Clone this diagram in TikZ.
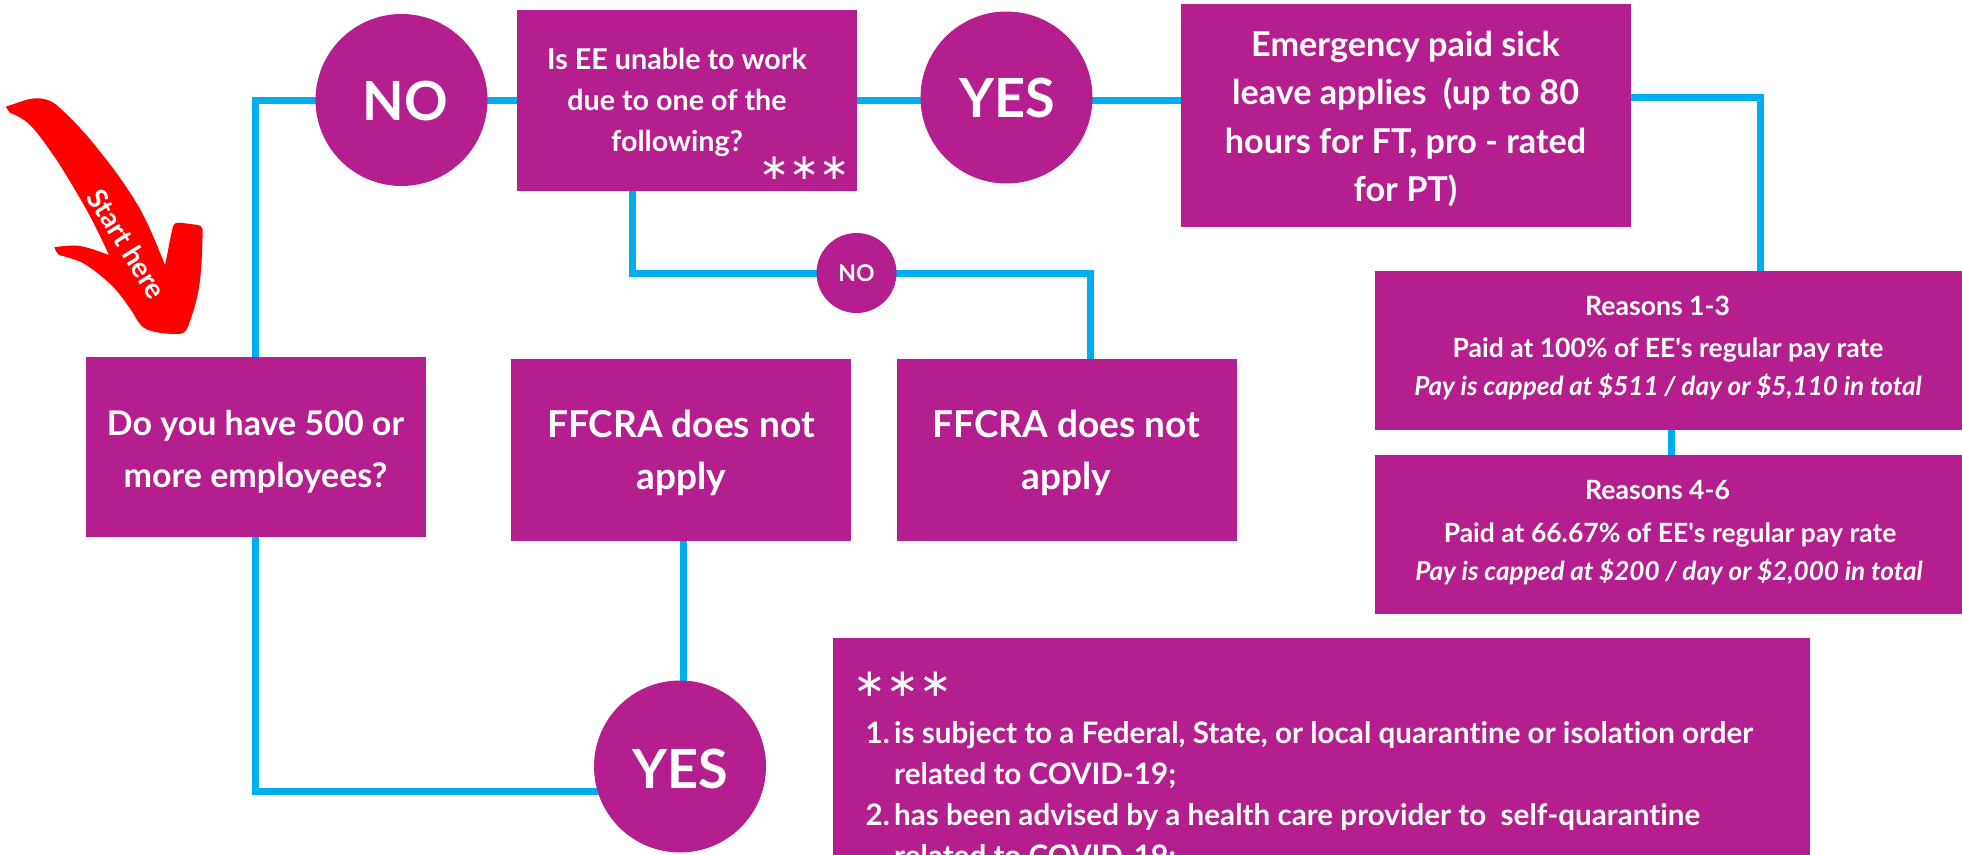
\documentclass[tikz,border=0pt]{standalone}
\usepackage{fontspec}
\usetikzlibrary{backgrounds}
\setmainfont{Lato}[Ligatures={NoCommon}]
\newfontfamily\astfont{DejaVu Sans}
\newfontfamily\aposfont{Lato}
\definecolor{boxpurple}{HTML}{B41E8E}
\definecolor{linkblue}{HTML}{00AEEF}
\newcommand{\fs}[2]{\fontsize{#1}{#2}\selectfont\bfseries}
\newcommand{\apos}{{\aposfont\bfseries'}}
\tikzset{
  box/.style={fill=boxpurple,inner sep=0pt,anchor=north west},
  disc/.style={circle,fill=boxpurple,inner sep=0pt,minimum size=#1},
  link/.style={draw=linkblue,line width=7pt,line join=miter},
  txt/.style={text=white,inner sep=0pt,align=center},
  stars/.style={text=white,inner sep=0pt,font=\astfont\fontsize{#1}{#1}\selectfont},
}
\begin{document}
\begin{tikzpicture}[x=1pt,y=-1pt]
\useasboundingbox (0,0) rectangle (1962,854);
\clip (0,0) rectangle (1962,854);
% boxes
\node[box,minimum width=340pt,minimum height=180pt] (q500) at (86,357) {};
\node[box,minimum width=340pt,minimum height=181pt] (unable) at (517,10) {};
\node[box,minimum width=450pt,minimum height=223pt] (epsl) at (1181,4) {};
\node[box,minimum width=340pt,minimum height=182pt] (ffa) at (511,359) {};
\node[box,minimum width=340pt,minimum height=182pt] (ffb) at (897,359) {};
\node[box,minimum width=587pt,minimum height=159pt] (r13) at (1375,271) {};
\node[box,minimum width=587pt,minimum height=159pt] (r46) at (1375,455) {};
\node[box,minimum width=977pt,minimum height=260pt] (list) at (833,638) {};
\node[disc=172pt] (no1) at (401.5,100) {};
\node[disc=172pt] (yes1) at (1006.5,97.5) {};
\node[disc=80pt] (no2) at (856.5,273) {};
\node[disc=172pt] (yes2) at (680,766.5) {};
\coordinate (c1) at (255.5,100);
\coordinate (c2) at (255.5,791);
\coordinate (c3) at (632.7,273);
\coordinate (c4) at (1090,273);
\coordinate (c5) at (1760.5,97.3);
\coordinate (c6) at (1671.5,440);
\coordinate (c7) at (683.3,600);
% connectors
\begin{scope}[on background layer]
\path[link] (q500.north -| c1) -- (c1) -- (no1.center);
\path[link] (no1.center) -- (unable.center |- c1);
\path[link] (unable.center |- c1) -- (yes1.center |- c1);
\path[link] (yes1.center |- c1) -- (epsl.center |- c1);
\path[link] (epsl.center |- c5) -- (c5) -- (r13.north -| c5);
\path[link] (r13.south -| c6) -- (r46.north -| c6);
\path[link] (unable.south -| c3) -- (c3) -- (no2.center) -- (c4) -- (ffb.north -| c4);
\path[link] (ffa.south -| c7) -- (yes2.center -| c7);
\path[link] (q500.south -| c2) -- (c2) -- (c2 -| yes2.center);
\end{scope}
% labels
\node[txt,font=\fs{54}{54}] (tno1) at (405,101) {NO};
\node[txt,font=\fs{54}{54}] (tyes1) at (1007,97.5) {YES};
\node[txt,font=\fs{23}{23}] (tno2) at (no2) {NO};
\node[txt,font=\fs{54}{54}] (tyes2) at (680,769) {YES};
\node[txt,font=\fs{34}{52.5}] (t500) at (255.5,451.5) {Do you have 500 or\\more employees?};
\node[txt,font=\fs{28.7}{41}] (tunable) at (677,102) {Is EE unable to work\\due to one of the\\following?};
\node[txt,font=\fs{34.2}{48.5}] (tepsl) at (1405.5,119) {Emergency paid sick\\leave applies\ \ (up to 80\\hours for FT, pro - rated\\for PT)};
\node[txt,font=\fs{37}{52}] (tffa) at (681,452.5) {FFCRA does not\\apply};
\node[txt,font=\fs{37}{52}] (tffb) at (1066.5,452.5) {FFCRA does not\\apply};
\node[stars=36] (s1) at (804.5,168.5) {∗∗∗};
\node[stars=39] (s2) at (902.7,684) {∗∗∗};
\node[txt,font=\fs{26.6}{26.6}] (r1a) at (1657.5,306) {Reasons 1-3};
\node[txt,font=\fs{26.5}{26.5}] (r1b) at (1668,350) {Paid at 100\% of EE\apos s regular pay rate};
\node[txt,font=\fs{26.1}{26.1}\itshape] (r1c) at (1668,387) {Pay is capped at \$511 / day or \$5,110 in total};
\node[txt,font=\fs{26.6}{26.6}] (r4a) at (1657.5,490) {Reasons 4-6};
\node[txt,font=\fs{26.5}{26.5}] (r4b) at (1670,535.5) {Paid at 66.67\% of EE\apos s regular pay rate};
\node[txt,font=\fs{26.1}{26.1}\itshape] (r4c) at (1669,572) {Pay is capped at \$200 / day or \$2,000 in total};
\node[txt,anchor=base east,font=\fs{29.6}{29.6}] (n1) at (890,743) {1.};
\node[txt,anchor=base west,font=\fs{29.6}{29.6}] (l1) at (894,743) {is subject to a Federal, State, or local quarantine or isolation order};
\node[txt,anchor=base west,font=\fs{29.6}{29.6}] (l1b) at (894,784) {related to COVID-19;};
\node[txt,anchor=base east,font=\fs{29.6}{29.6}] (n2) at (890,825) {2.};
\node[txt,anchor=base west,font=\fs{29.6}{29.6}] (l2) at (894,825) {has been advised by a health care provider to\ \ self-quarantine};
\node[txt,anchor=base west,font=\fs{29.6}{29.6}] (l2b) at (894,866) {related to COVID-19;};
% start arrow
\fill[red] (5.7,106.7) .. controls (15,104) and (28,98) .. (36.7,98.3)
  .. controls (46,98) and (54,102) .. (60,108)
  .. controls (75,122) and (88,136) .. (100,151.7)
  .. controls (115,170) and (126,186) .. (136.7,203.3)
  .. controls (148,222) and (156,243) .. (165,265)
  .. controls (168,252) and (170,238) .. (173,226.7)
  .. controls (174,223) and (177,222.5) .. (180,222.7)
  -- (198,225) .. controls (202,226) and (203,229) .. (202.7,233)
  .. controls (202,250) and (202,265) .. (200,280)
  .. controls (198,298) and (193,313) .. (188,326.7)
  .. controls (186,332) and (183,334) .. (178,334)
  .. controls (167,334) and (157,333) .. (148,330)
  .. controls (142,328) and (138,322) .. (133,313)
  .. controls (127,304) and (120,294) .. (113,286.7)
  .. controls (103,277) and (93,269) .. (83,263)
  .. controls (75,259) and (66,257) .. (59,255)
  .. controls (57,253) and (55,250) .. (54.3,247.3)
  .. controls (63,246) and (72,245) .. (80,246)
  .. controls (91,248) and (100,252) .. (109,255)
  .. controls (102,240) and (95,225) .. (86.7,210)
  .. controls (77,193) and (67,176) .. (56.7,160)
  .. controls (48,148) and (40,135) .. (30,125)
  .. controls (24,119) and (16,115) .. (10,113) -- cycle;
\node[txt,rotate=-58,font=\fontsize{28}{28}\selectfont\bfseries] (start) at (127,244) {Start here};
\end{tikzpicture}
\end{document}
